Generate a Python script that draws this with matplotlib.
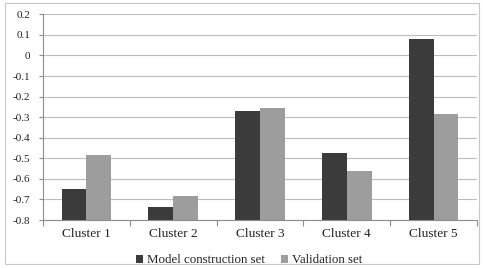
import matplotlib
matplotlib.use("Agg")
import matplotlib.pyplot as plt
import numpy as np
from matplotlib.patches import Rectangle

categories = ["Cluster 1", "Cluster 2", "Cluster 3", "Cluster 4", "Cluster 5"]
model_construction = [-0.647, -0.739, -0.268, -0.473, 0.082]
validation = [-0.483, -0.685, -0.255, -0.562, -0.287]
series_names = ["Model construction set", "Validation set"]
yticks = [0.2, 0.1, 0, -0.1, -0.2, -0.3, -0.4, -0.5, -0.6, -0.7, -0.8]

plt.rcParams['font.family'] = ['Liberation Serif', 'DejaVu Serif']
fig = plt.figure(figsize=(4.83, 2.68), dpi=100)
fig.patches.append(Rectangle((5/483, 4/268), 474/483, 261/268, transform=fig.transFigure,
                             fill=False, edgecolor='#c8c8c8', linewidth=0.8))
ax = fig.add_axes([43/483, 1-220/268, 434/483, (220-14.3)/268])

x = np.arange(len(categories))
w = 0.285
dark = '#3b3b3b'
light = '#9d9d9d'
ax.bar(x - w/2, np.array(model_construction) + 0.8, w, bottom=-0.8, color=dark, label=series_names[0])
ax.bar(x + w/2, np.array(validation) + 0.8, w, bottom=-0.8, color=light, label=series_names[1])

ax.set_xlim(-0.5, len(categories) - 0.5)
ax.set_ylim(-0.8, 0.2)
ax.set_yticks(yticks)
ax.set_yticklabels([("%g" % t) for t in yticks], fontsize=8, color='#222222')
ax.yaxis.grid(True, color='#bdbdbd', linewidth=0.8)
ax.set_axisbelow(True)
for s in ['top', 'right']:
    ax.spines[s].set_visible(False)
for s in ['left', 'bottom']:
    ax.spines[s].set_color('#8c8c8c')
    ax.spines[s].set_linewidth(0.8)
ax.set_xticks(np.arange(-0.5, len(categories)), minor=False)
ax.set_xticklabels([])
ax.set_xticks(x, minor=True)
ax.set_xticklabels(categories, minor=True, fontsize=9.6, color='#222222')
ax.tick_params(axis='x', which='minor', length=0, pad=6)
ax.tick_params(axis='x', which='major', length=4, color='#8c8c8c', width=0.8)
ax.tick_params(axis='y', length=3, color='#8c8c8c', width=0.8, pad=6)

leg = ax.legend(loc='upper center', bbox_to_anchor=(0.475, -0.11), ncol=2, frameon=False,
                fontsize=9.3, handlelength=0.55, handleheight=0.55, handletextpad=0.3,
                columnspacing=1.2)
for t in leg.get_texts():
    t.set_color('#222222')

fig.savefig("out.png", dpi=100)
